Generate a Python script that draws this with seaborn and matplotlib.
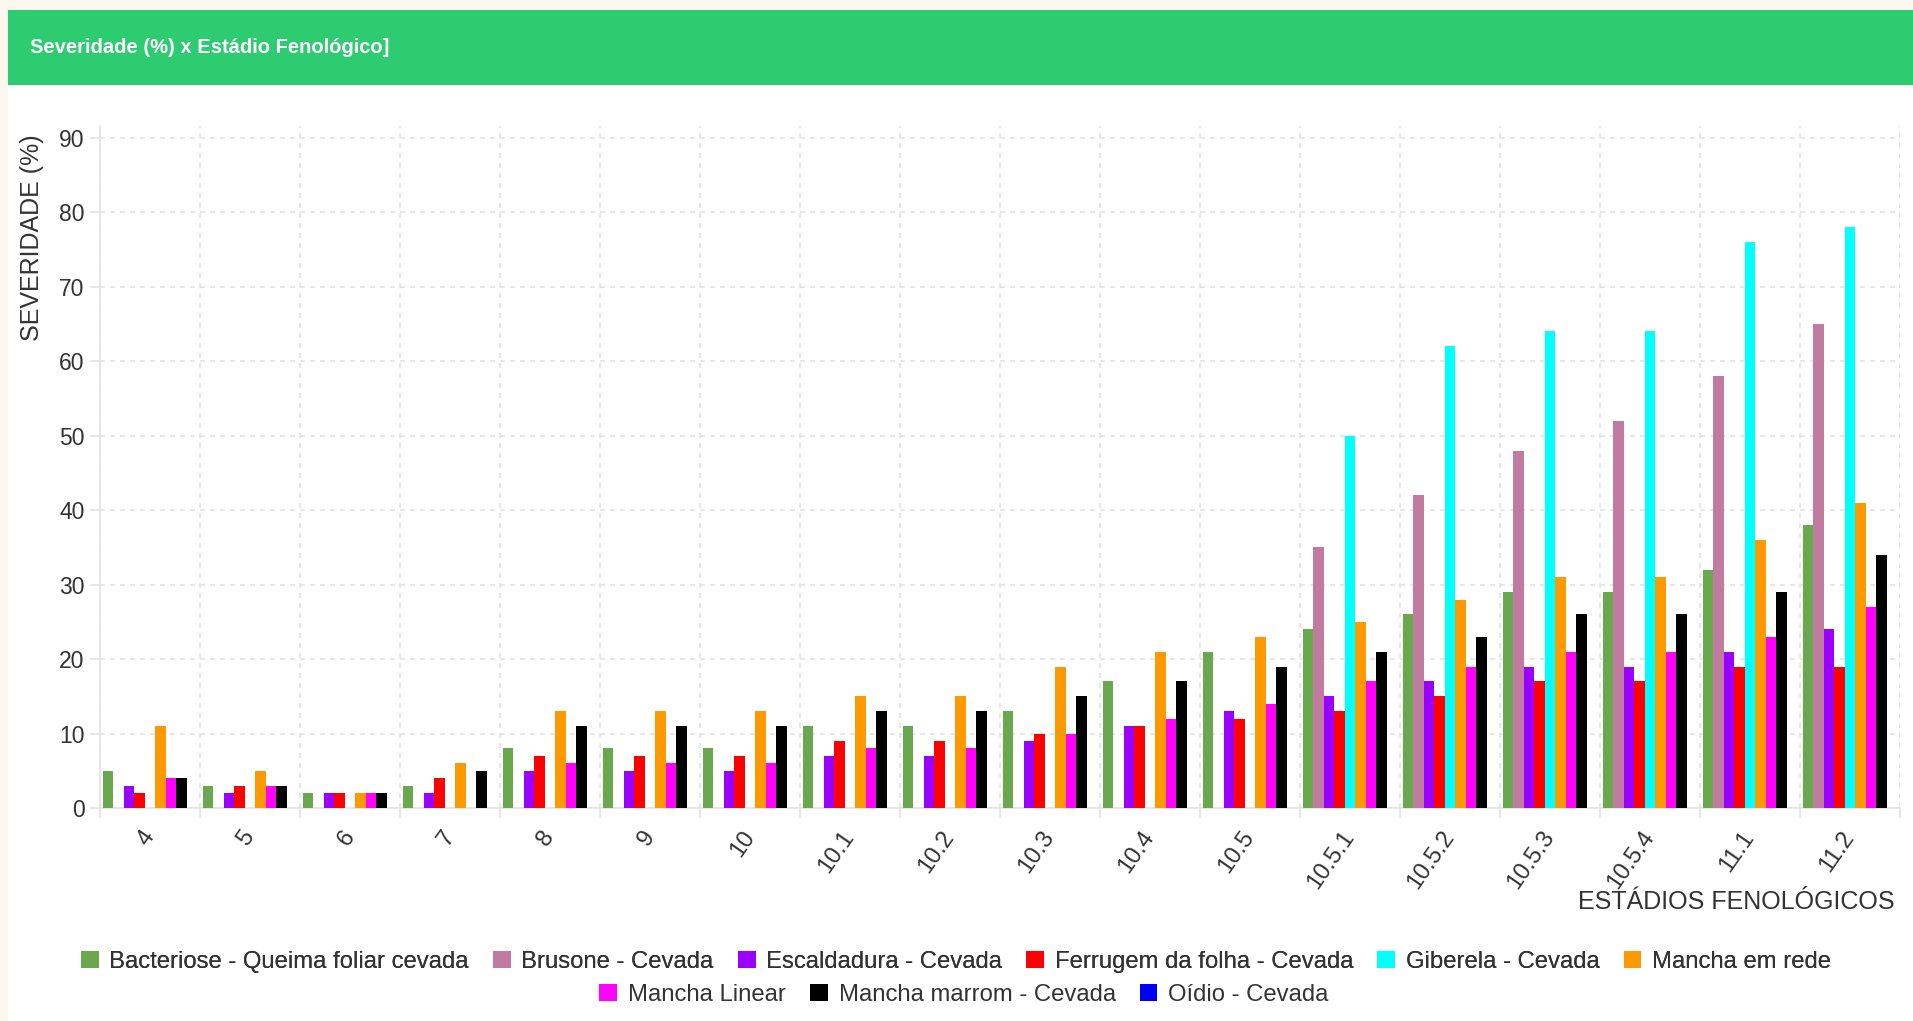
import matplotlib

matplotlib.use("Agg")
import matplotlib.pyplot as plt
import matplotlib.transforms as mtransforms
import numpy as np
import pandas as pd
import seaborn as sns
from matplotlib.patches import Patch, Rectangle

# --- Data
estadios = [
    "4", "5", "6", "7", "8", "9", "10", "10.1", "10.2", "10.3",
    "10.4", "10.5", "10.5.1", "10.5.2", "10.5.3", "10.5.4", "11.1", "11.2",
]
bacteriose = [5, 3, 2, 3, 8, 8, 8, 11, 11, 13, 17, 21, 24, 26, 29, 29, 32, 38]
brusone = [0, 0, 0, 0, 0, 0, 0, 0, 0, 0, 0, 0, 35, 42, 48, 52, 58, 65]
escaldadura = [3, 2, 2, 2, 5, 5, 5, 7, 7, 9, 11, 13, 15, 17, 19, 19, 21, 24]
ferrugem = [2, 3, 2, 4, 7, 7, 7, 9, 9, 10, 11, 12, 13, 15, 17, 17, 19, 19]
giberela = [0, 0, 0, 0, 0, 0, 0, 0, 0, 0, 0, 0, 50, 62, 64, 64, 76, 78]
mancha_rede = [11, 5, 2, 6, 13, 13, 13, 15, 15, 19, 21, 23, 25, 28, 31, 31, 36, 41]
mancha_linear = [4, 3, 2, 0, 6, 6, 6, 8, 8, 10, 12, 14, 17, 19, 21, 21, 23, 27]
mancha_marrom = [4, 3, 2, 5, 11, 11, 11, 13, 13, 15, 17, 19, 21, 23, 26, 26, 29, 34]
oidio = [0, 0, 0, 0, 0, 0, 0, 0, 0, 0, 0, 0, 0, 0, 0, 0, 0, 0]

doencas = [
    "Bacteriose - Queima foliar cevada",
    "Brusone - Cevada",
    "Escaldadura - Cevada",
    "Ferrugem da folha - Cevada",
    "Giberela - Cevada",
    "Mancha em rede",
    "Mancha Linear",
    "Mancha marrom - Cevada",
    "Oídio - Cevada",
]
series = [
    bacteriose, brusone, escaldadura, ferrugem, giberela,
    mancha_rede, mancha_linear, mancha_marrom, oidio,
]
cores = [
    "#6aa84f", "#c27ba0", "#9900ff", "#ff0000", "#00ffff",
    "#ff9900", "#ff00ff", "#000000", "#0000ff",
]

# long format dataframe for seaborn
rows = []
for nome, valores in zip(doencas, series):
    for est, v in zip(estadios, valores):
        rows.append({"estadio": est, "severidade": v, "doenca": nome})
df = pd.DataFrame(rows)

# --- Figure
sns.set_style("white")
plt.rcParams["font.family"] = ["Liberation Sans", "DejaVu Sans"]
texto = "#333333"
grade = "#e3e3e3"

W, H = 1913, 1021
fig = plt.figure(figsize=(W / 100, H / 100), dpi=100, facecolor="#fbf8ef")

# white panel and green header
fig.add_artist(Rectangle((8 / W, 0), 1, 1 - 9 / H, transform=fig.transFigure,
                         facecolor="white", edgecolor="none", zorder=0))
fig.add_artist(Rectangle((8 / W, 1 - 85 / H), 1, 75 / H, transform=fig.transFigure,
                         facecolor="#2ecc71", edgecolor="none", zorder=1))
fig.text(30 / W, 1 - 47 / H, "Severidade (%) x Estádio Fenológico]", color="white",
         fontsize=14.5, fontweight="bold", va="center", ha="left")

ax = fig.add_axes([100 / W, 1 - 808 / H, 1800 / W, 682 / H])
sns.barplot(
    data=df, x="estadio", y="severidade", hue="doenca",
    order=estadios, hue_order=doencas, palette=cores,
    width=0.945, saturation=1, linewidth=0, legend=False, ax=ax, zorder=3,
)

ax.set_xlim(-0.5, len(estadios) - 0.5)
ax.set_ylim(0, 91.6)
ax.set_yticks(range(0, 91, 10))
ax.set_xticks(range(len(estadios)))
ax.set_xticks(np.arange(-0.5, len(estadios)), minor=True)
ax.set_xticklabels(estadios, rotation=55, ha="right", va="center",
                   rotation_mode="anchor")
# nudge the rotated labels so their end sits on the category centre
shift = mtransforms.ScaledTranslation(6 / 100, 0, fig.dpi_scale_trans)
for lab in ax.get_xticklabels():
    lab.set_transform(lab.get_transform() + shift)

ax.tick_params(axis="x", which="major", length=0, pad=18, labelsize=17,
               labelcolor=texto)
ax.tick_params(axis="x", which="minor", length=7, color=grade, width=1.2,
               bottom=True)
ax.tick_params(axis="y", length=7, color=grade, width=1.2, left=True, pad=4,
               labelsize=16.5, labelcolor=texto)

ax.grid(axis="y", which="major", ls=(0, (3, 3)), color=grade, lw=1.2, zorder=0)
ax.grid(axis="x", which="minor", ls=(0, (3, 3)), color=grade, lw=1.2, zorder=0)
ax.grid(axis="x", which="major", visible=False)
ax.set_axisbelow(True)

sns.despine(ax=ax, top=True, right=True)
for side in ["left", "bottom"]:
    ax.spines[side].set_color(grade)
    ax.spines[side].set_linewidth(1.2)

ax.set_xlabel("")
ax.set_ylabel("")
fig.text(32 / W, 1 - 134 / H, "SEVERIDADE (%)", rotation=90, ha="center",
         va="top", fontsize=18, color=texto)
fig.text(1895 / W, 1 - 902 / H, "ESTÁDIOS FENOLÓGICOS", ha="right",
         va="center", fontsize=18, color=texto)

# legend in two centred rows, like the flow layout of the original
handles = [Patch(facecolor=c, edgecolor="none") for c in cores]
leg_kw = dict(loc="center", frameon=False, fontsize=17.2, handlelength=0.75,
              handleheight=0.75, handletextpad=0.45, columnspacing=1.0,
              labelcolor=texto)
leg1 = fig.legend(handles[:6], doencas[:6], ncol=6,
                  bbox_to_anchor=(956 / W, 1 - 962 / H), **leg_kw)
fig.add_artist(leg1)
fig.legend(handles[6:], doencas[6:], ncol=3,
           bbox_to_anchor=(964 / W, 1 - 995 / H), **leg_kw)

fig.savefig("out.png", dpi=100, facecolor=fig.get_facecolor())
